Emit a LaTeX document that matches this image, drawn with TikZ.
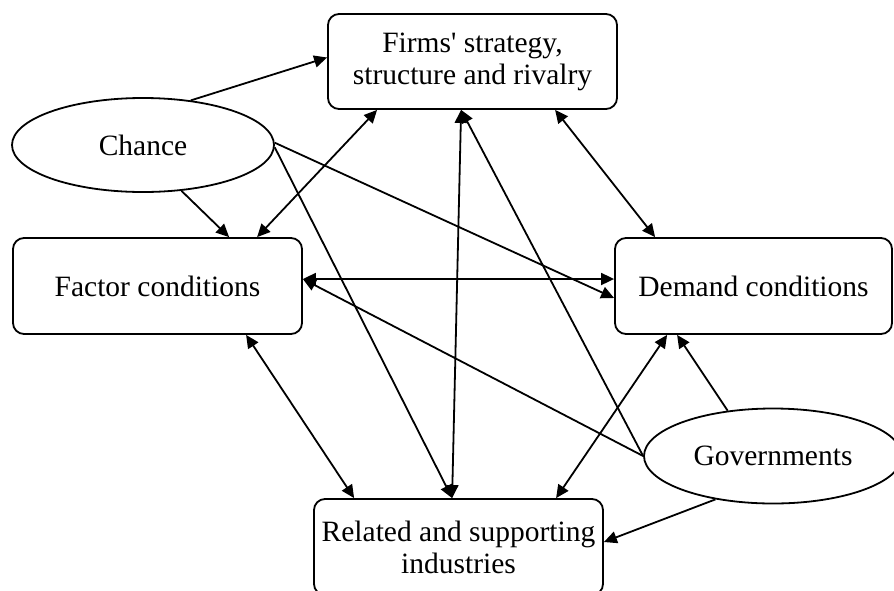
\documentclass[tikz,border=0pt]{standalone}
\usepackage{fontspec}
\setmainfont{Liberation Serif}[Ligatures=TeXOff]
\usetikzlibrary{arrows.meta,calc,shapes.geometric}
\tikzset{
  box/.style={draw, rectangle, rounded corners=11pt, line width=1.8pt, inner sep=0pt, align=center},
  oval/.style={draw, ellipse, line width=1.8pt, inner sep=0pt, align=center},
  con/.style={line width=1.8pt, -{Triangle[length=13pt,width=12pt]}},
  bi/.style={line width=1.8pt, {Triangle[length=13pt,width=12pt]}-{Triangle[length=13pt,width=12pt]}}
}
\begin{document}
\begin{tikzpicture}[x=1pt, y=-1pt, font=\fontsize{29.5}{32}\selectfont]
\useasboundingbox (0,0) rectangle (894,590);
\node[box, minimum width=289pt, minimum height=95pt] (firms) at (472.5,61.5) {Firms' strategy,\\structure and rivalry};
\node[box, minimum width=289pt, minimum height=96pt] (factor) at (157.5,286) {Factor conditions};
\node[box, minimum width=277pt, minimum height=96pt] (demand) at (753.5,286) {Demand conditions};
\node[box, minimum width=289pt, minimum height=96pt] (related) at (458.5,547) {Related and supporting\\industries};
\node[oval, minimum width=262pt, minimum height=94pt] (chance) at (143,145) {Chance};
\node[oval, minimum width=258pt, minimum height=95pt] (governments) at (773,456) {Governments};

\draw[con] (chance.43) -- ($(firms.west)+(0,-4)$);
\draw[con] (chance.-50) -- ($(factor.north west)+(217,0)$);
\draw[bi] ($(factor.north west)+(245,0)$) -- ($(firms.south west)+(50,0)$);
\draw[con] (chance.1) -- ($(demand.west)+(0,12)$);
\draw[con] (chance.-1) -- ($(related.north west)+(139,0)$);
\draw[bi] ($(factor.east)+(0,-7)$) -- ($(demand.west)+(0,-7)$);
\draw[bi] ($(factor.south west)+(234,0)$) -- ($(related.north west)+(41,0)$);
\draw[bi] ($(firms.south west)+(134,0)$) -- ($(related.north west)+(139,0)$);
\draw[con] (governments.west) -- ($(firms.south west)+(134,0)$);
\draw[con] (governments.west) -- ($(factor.east)+(0,-7)$);
\draw[bi] ($(firms.south west)+(228,0)$) -- ($(demand.north west)+(41,0)$);
\draw[bi] ($(demand.south west)+(53,0)$) -- ($(related.north west)+(243,0)$);
\draw[con] (governments.135) -- ($(demand.south west)+(63,0)$);
\draw[con] (governments.-143) -- ($(related.east)+(0,-5)$);
\end{tikzpicture}
\end{document}
